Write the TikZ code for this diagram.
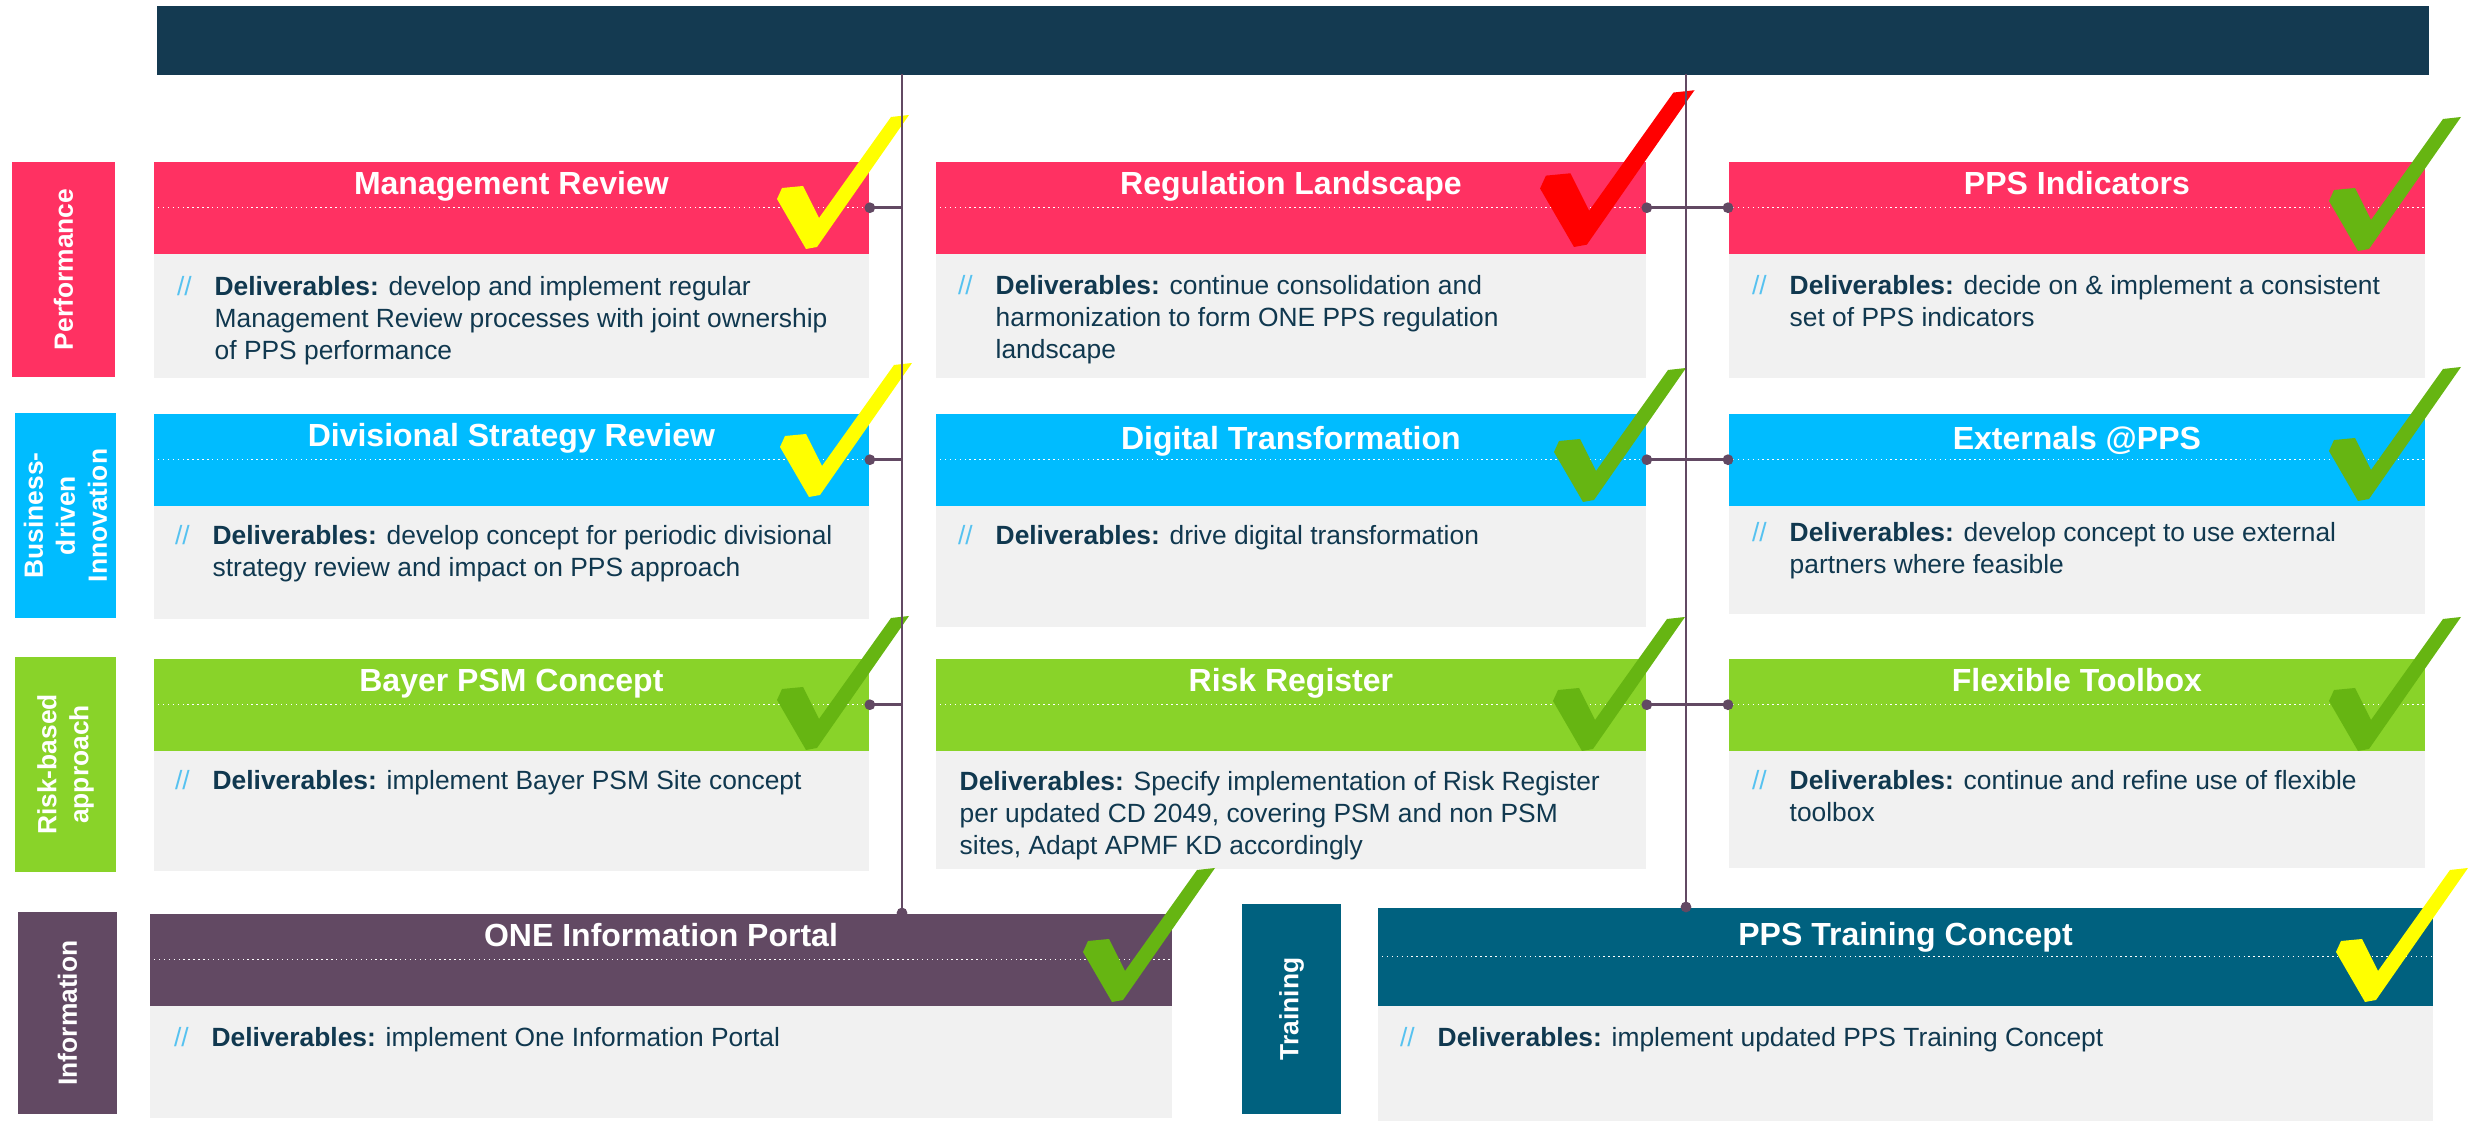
\documentclass[tikz,border=0pt]{standalone}
\usepackage{fontspec}
\setmainfont{Liberation Sans}
\usepackage{tikz}
\usetikzlibrary{positioning,arrows.meta,calc}
\usepackage{xcolor}

\definecolor{baynavy}{HTML}{143A51}
\definecolor{baypink}{HTML}{FF3162}
\definecolor{bayblue}{HTML}{00BCFF}
\definecolor{baygreen}{HTML}{89D329}
\definecolor{baypurple}{HTML}{624963}
\definecolor{bayteal}{HTML}{00617F}
\definecolor{cardgrey}{HTML}{F1F1F1}
\definecolor{textnavy}{HTML}{10384F}
\definecolor{slashblue}{HTML}{56C2F0}
\definecolor{tickgreen}{HTML}{66B512}
\definecolor{tickyellow}{HTML}{FFFF00}
\definecolor{tickred}{HTML}{FF0000}

\newcommand{\dlv}{\llap{\textcolor{slashblue}{//}\hspace{0.23cm}}\textbf{Deliverables:}}

\tikzset{pics/tick/.style={code={
  \fill[#1] (0,0) -- (-29,-50) -- (-24,-61) -- (-3,-63) -- (13,-31)
    -- (85,-132) -- (103,-134) -- (11,-2) -- cycle;}}}

\begin{document}
\begin{tikzpicture}[x=0.01cm,y=-0.01cm,
    bar/.style={fill=baynavy,inner sep=0pt,anchor=north west},
    lane/.style={fill=#1,text=white,inner sep=0pt,rotate=90,align=center,
      font=\fontsize{7.5pt}{9.1pt}\selectfont\bfseries},
    head/.style={fill=#1,text=white,inner sep=0pt,anchor=north west,
      text height=0.33cm,text depth=0.59cm,
      font=\fontsize{9.1pt}{11pt}\selectfont\bfseries},
    card/.style={fill=cardgrey,inner sep=0pt,anchor=north west},
    deliv/.style={text=textnavy,inner sep=0pt,anchor=north west,align=left,
      font=\fontsize{7.5pt}{9.1pt}\selectfont},
    seam/.style={white,densely dotted,line width=0.4pt},
    link/.style={baypurple,line width=0.8pt},
    dot end/.style={-{Circle[length=3pt]},shorten >=-1.5pt},
    dot start/.style={{Circle[length=3pt]}-,shorten <=-1.5pt},
    dot both/.style={{Circle[length=3pt]}-{Circle[length=3pt]},
      shorten <=-1.5pt,shorten >=-1.5pt}]

    \useasboundingbox (0,0) rectangle (2471,1125);

    % title bar
    \node[bar,minimum width=22.71cm,minimum height=0.69cm] (topbar) at (156,5) {};

    % lanes
    \node[lane=baypink,minimum width=2.15cm,minimum height=1.03cm] (perf) at (63.5,269.5) {Performance};
    \node[lane=bayblue,minimum width=2.05cm,minimum height=1.01cm] (busi) at (65.5,515.5) {Business-\\driven\\Innovation};
    \node[lane=baygreen,minimum width=2.15cm,minimum height=1.01cm] (risk) at (65.5,764.5) {Risk-based\\approach};
    \node[lane=baypurple,minimum width=2.02cm,minimum height=0.99cm] (info) at (67.5,1013) {Information};
    \node[lane=bayteal,minimum width=2.10cm,minimum height=0.99cm] (train) at (1291.5,1009) {Training};

    % row 1
    \node[head=baypink,minimum width=7.15cm] (mrHead) at (153,161) {Management Review};
    \node[card,minimum width=7.15cm,minimum height=1.24cm] (mrBody) at (153,253) {};
    \node[deliv] (mrText) at (214,276) {\dlv{} develop and implement regular\\Management Review processes with joint ownership\\of PPS performance};

    \node[head=baypink,minimum width=7.10cm] (rlHead) at (935,161) {Regulation Landscape};
    \node[card,minimum width=7.10cm,minimum height=1.24cm] (rlBody) at (935,253) {};
    \node[deliv] (rlText) at (995,275) {\dlv{} continue consolidation and\\harmonization to form ONE PPS regulation\\landscape};

    \node[head=baypink,minimum width=6.96cm] (ppsiHead) at (1728,161) {PPS Indicators};
    \node[card,minimum width=6.96cm,minimum height=1.24cm] (ppsiBody) at (1728,253) {};
    \node[deliv] (ppsiText) at (1789,275) {\dlv{} decide on \& implement a consistent\\set of PPS indicators};

    % row 2
    \node[head=bayblue,minimum width=7.15cm] (dsrHead) at (153,413) {Divisional Strategy Review};
    \node[card,minimum width=7.15cm,minimum height=1.13cm] (dsrBody) at (153,505) {};
    \node[deliv] (dsrText) at (212,525) {\dlv{} develop concept for periodic divisional\\strategy review and impact on PPS approach};

    \node[head=bayblue,minimum width=7.10cm,text height=0.36cm,text depth=0.56cm] (dtHead) at (935,413) {Digital Transformation};
    \node[card,minimum width=7.10cm,minimum height=1.21cm] (dtBody) at (935,505) {};
    \node[deliv] (dtText) at (995,525) {\dlv{} drive digital transformation};

    \node[head=bayblue,minimum width=6.96cm,text height=0.36cm,text depth=0.56cm] (extHead) at (1728,413) {Externals @PPS};
    \node[card,minimum width=6.96cm,minimum height=1.08cm] (extBody) at (1728,505) {};
    \node[deliv] (extText) at (1789,522) {\dlv{} develop concept to use external\\partners where feasible};

    % row 3
    \node[head=baygreen,minimum width=7.15cm] (bayerHead) at (153,658) {Bayer PSM Concept};
    \node[card,minimum width=7.15cm,minimum height=1.20cm] (bayerBody) at (153,750) {};
    \node[deliv] (bayerText) at (212,770) {\dlv{} implement Bayer PSM Site concept};

    \node[head=baygreen,minimum width=7.10cm] (rrHead) at (935,658) {Risk Register};
    \node[card,minimum width=7.10cm,minimum height=1.18cm] (rrBody) at (935,750) {};
    \node[deliv] (rrText) at (959,771) {\textbf{Deliverables:} Specify implementation of Risk Register\\per updated CD 2049, covering PSM and non PSM\\sites, Adapt APMF KD accordingly};

    \node[head=baygreen,minimum width=6.96cm] (ftHead) at (1728,658) {Flexible Toolbox};
    \node[card,minimum width=6.96cm,minimum height=1.17cm] (ftBody) at (1728,750) {};
    \node[deliv] (ftText) at (1789,770) {\dlv{} continue and refine use of flexible\\toolbox};

    % row 4
    \node[head=baypurple,minimum width=10.22cm] (oneHead) at (149,913) {ONE Information Portal};
    \node[card,minimum width=10.22cm,minimum height=1.12cm] (oneBody) at (149,1005) {};
    \node[deliv] (oneText) at (211,1027) {\dlv{} implement One Information Portal};

    \node[head=bayteal,minimum width=10.55cm,text height=0.38cm,text depth=0.60cm] (ptcHead) at (1377,907) {PPS Training Concept};
    \node[card,minimum width=10.55cm,minimum height=1.15cm] (ptcBody) at (1377,1005) {};
    \node[deliv] (ptcText) at (1437,1027) {\dlv{} implement updated PPS Training Concept};

    % dotted seams in the headers
    \draw[seam] (mrHead.west) -- (mrHead.east);
    \draw[seam] (rlHead.west) -- (rlHead.east);
    \draw[seam] (ppsiHead.west) -- (ppsiHead.east);
    \draw[seam] (dsrHead.west) -- (dsrHead.east);
    \draw[seam] (dtHead.west) -- (dtHead.east);
    \draw[seam] (extHead.west) -- (extHead.east);
    \draw[seam] (bayerHead.west) -- (bayerHead.east);
    \draw[seam] (rrHead.west) -- (rrHead.east);
    \draw[seam] (ftHead.west) -- (ftHead.east);
    \draw[seam] (oneHead.west) -- (oneHead.east);
    \draw[seam] (ptcHead.west) -- (ptcHead.east);

    % ticks
    \pic at (806,249) {tick=tickyellow};
    \pic[scale=1.17] at (1574,247) {tick=tickred};
    \pic at (2358,251) {tick=tickgreen};
    \pic at (809,497) {tick=tickyellow};
    \pic at (1583,502) {tick=tickgreen};
    \pic at (2358,501) {tick=tickgreen};
    \pic at (806,750) {tick=tickgreen};
    \pic at (1582,751) {tick=tickgreen};
    \pic at (2358,751) {tick=tickgreen};
    \pic at (1112,1002) {tick=tickgreen};
    \pic at (2365,1002) {tick=tickyellow};

    % connectors
    \coordinate (trunkL) at (902,74);
    \coordinate (trunkR) at (1686,74);
    \path[link]
    (trunkL) edge[dot end] (trunkL |- oneHead.north)
    (trunkR) edge[dot end] (trunkR |- ptcHead.north)
    (mrHead.east) edge[dot start] (mrHead.east -| trunkL)
    (dsrHead.east) edge[dot start] (dsrHead.east -| trunkL)
    (bayerHead.east) edge[dot start] (bayerHead.east -| trunkL)
    (rlHead.east) edge[dot both] (ppsiHead.west)
    (dtHead.east) edge[dot both] (extHead.west)
    (rrHead.east) edge[dot both] (ftHead.west);
  \end{tikzpicture}
\end{document}
